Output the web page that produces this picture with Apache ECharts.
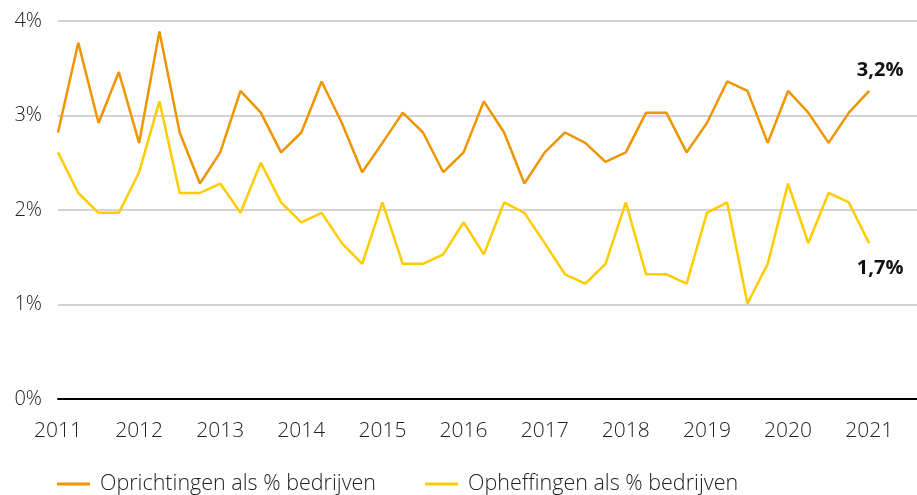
<!DOCTYPE html>
<html>
<head>
<meta charset="utf-8">
<script src="https://cdn.jsdelivr.net/npm/echarts@6/dist/echarts.min.js"></script>
<style>html,body{margin:0;padding:0;background:#fff}#c{width:917px;height:495px}</style>
</head>
<body>
<div id="c"></div>
<script>
var startYear = 2011;
var seriesNames = ['Oprichtingen als % bedrijven', 'Opheffingen als % bedrijven'];
var oprichtingen = [2.82,3.77,2.92,3.46,2.71,3.89,2.82,2.28,2.61,3.26,3.03,2.61,2.82,3.36,2.92,2.40,2.71,3.03,2.82,2.40,2.61,3.15,2.82,2.28,2.61,2.82,2.71,2.51,2.61,3.03,3.03,2.61,2.92,3.36,3.26,2.71,3.26,3.03,2.71,3.03,3.26];
var opheffingen = [2.61,2.18,1.97,1.97,2.40,3.15,2.18,2.18,2.28,1.97,2.50,2.08,1.87,1.97,1.65,1.43,2.08,1.43,1.43,1.53,1.87,1.53,2.08,1.97,1.65,1.32,1.22,1.43,2.08,1.32,1.32,1.22,1.97,2.08,1.01,1.43,2.28,1.65,2.18,2.08,1.65];
var endLabels = ['3,2%', '1,7%'];
var colors = ['#EE9500', '#FFCC00'];

var FONT = 'Open Sans';
function build(vals, label, pos, offset) {
  return vals.map(function (v, i) {
    var d = { value: [startYear + i / 4, v] };
    if (i === vals.length - 1) {
      d.label = { show: true, formatter: label, position: pos, offset: offset,
        fontSize: 20, fontWeight: 'bold', color: '#111', fontFamily: FONT };
    }
    return d;
  });
}

var chart = echarts.init(document.getElementById('c'));
chart.setOption({
  animation: false,
  color: colors,
  grid: { left: 58, right: 0, top: 21, bottom: 96 },
  legend: {
    left: 52, top: 468, itemWidth: 33, itemHeight: 3, itemGap: 49,
    icon: 'rect',
    textStyle: { fontSize: 21.5, color: '#222', fontFamily: FONT, fontWeight: 300, padding: [0, 0, 0, 5] },
    data: seriesNames
  },
  xAxis: {
    type: 'value', min: 2011, max: 2021.59, interval: 1,
    axisLine: { show: true, lineStyle: { color: '#000', width: 2 } },
    axisTick: { show: false },
    splitLine: { show: false },
    axisLabel: { fontSize: 21, color: '#222', fontFamily: FONT, fontWeight: 300, margin: 22, showMaxLabel: false,
      formatter: function (v) { return String(v); } }
  },
  yAxis: {
    type: 'value', min: 0, max: 4, interval: 1,
    axisLine: { show: false }, axisTick: { show: false },
    splitLine: { lineStyle: { color: '#c4c4c4', width: 1.5 } },
    axisLabel: { fontSize: 20, color: '#222', fontFamily: FONT, fontWeight: 300, margin: 16, formatter: '{value}%' }
  },
  series: [
    { name: seriesNames[0], type: 'line', symbol: 'circle', symbolSize: 0, showSymbol: true,
      lineStyle: { width: 2.5, color: colors[0] }, itemStyle: { color: colors[0] },
      data: build(oprichtingen, endLabels[0], 'top', [11, -6]) },
    { name: seriesNames[1], type: 'line', symbol: 'circle', symbolSize: 0, showSymbol: true,
      lineStyle: { width: 2.5, color: colors[1] }, itemStyle: { color: colors[1] },
      data: build(opheffingen, endLabels[1], 'bottom', [11, 10]) }
  ]
});
</script>
</body>
</html>
